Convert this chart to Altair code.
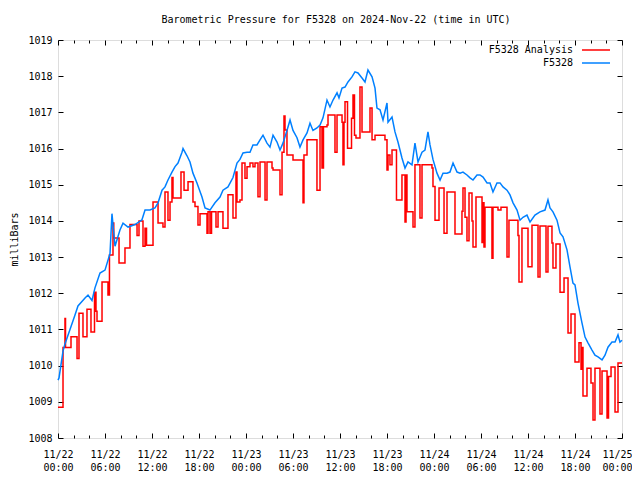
import altair as alt
import pandas as pd

TITLE = "Barometric Pressure for F5328 on 2024-Nov-22 (time in UTC)"
SERIES = ["F5328 Analysis", "F5328"]
COLORS = ["#ff0000", "#0080ff"]

# hours since 2024-11-22 00:00 UTC
BLUE_HOURS = [0.00, 0.13, 0.64, 0.89, 1.53, 2.17, 2.55, 3.45, 3.83, 4.34, 4.72, 5.36, 6.00, 6.64, 6.89,
              7.28, 7.91, 8.30, 8.94, 9.83, 10.72, 11.11, 11.74, 12.38, 12.77, 13.28, 13.66, 14.04,
              14.55, 14.94, 15.32, 15.83, 15.96, 16.47, 16.85, 17.23, 17.74, 18.38, 18.77, 19.40,
              20.04, 20.68, 21.06, 21.70, 22.34, 22.85, 23.23, 23.62, 24.13, 24.51, 24.89, 25.40,
              25.79, 26.17, 26.68, 27.06, 27.45, 27.96, 28.34, 28.72, 29.23, 29.62, 30.00, 30.51,
              30.89, 31.28, 31.79, 32.17, 32.55, 33.06, 33.45, 33.83, 34.34, 34.72, 35.11, 35.62,
              35.87, 36.26, 36.64, 37.02, 37.53, 37.91, 38.30, 38.81, 39.19, 39.57, 40.09, 40.47,
              40.72, 41.11, 41.49, 42.00, 42.13, 42.64, 43.02, 43.40, 43.91, 44.30, 44.68, 45.19,
              45.57, 45.96, 46.47, 46.85, 47.23, 47.49, 47.87, 48.38, 48.77, 49.15, 49.66, 50.04,
              50.43, 50.94, 51.32, 51.70, 52.21, 52.60, 52.98, 53.49, 53.87, 54.26, 54.77, 55.15,
              55.53, 56.04, 56.43, 56.81, 57.32, 57.70, 58.09, 58.60, 58.98, 59.36, 59.87, 60.26,
              60.89, 61.53, 62.17, 62.55, 62.81, 63.19, 63.70, 64.09, 64.47, 64.98, 65.36, 65.74,
              66.00, 66.38, 66.89, 67.28, 67.66, 68.17, 68.55, 68.94, 69.45, 69.83, 70.21, 70.72,
              71.11, 71.49, 71.74, 72.00]
BLUE_VALUES = [1009.60, 1009.66, 1010.40, 1010.60, 1011.00, 1011.40, 1011.65, 1011.87, 1011.95, 1011.80,
               1012.15, 1012.56, 1012.64, 1013.10, 1014.20, 1013.30, 1013.75, 1013.94, 1013.83, 1013.90,
               1014.03, 1014.30, 1014.30, 1014.36, 1014.50, 1014.85, 1014.94, 1015.13, 1015.35, 1015.50,
               1015.60, 1015.90, 1016.00, 1015.80, 1015.63, 1015.32, 1015.05, 1014.66, 1014.36, 1014.30,
               1014.50, 1014.66, 1014.85, 1014.94, 1015.20, 1015.60, 1015.70, 1015.88, 1015.90, 1015.90,
               1016.10, 1016.10, 1016.24, 1016.37, 1016.15, 1016.04, 1016.37, 1016.18, 1015.96, 1016.15,
               1016.50, 1016.79, 1016.50, 1016.30, 1016.04, 1016.24, 1016.43, 1016.70, 1016.50, 1016.57,
               1016.65, 1016.85, 1017.34, 1017.15, 1017.34, 1017.54, 1017.40, 1017.67, 1017.70, 1017.84,
               1017.98, 1018.12, 1018.09, 1017.95, 1017.84, 1018.17, 1017.98, 1017.67, 1017.12, 1017.07,
               1016.79, 1017.26, 1016.73, 1016.87, 1016.46, 1016.18, 1015.74, 1015.46, 1015.63, 1015.55,
               1016.15, 1015.63, 1015.90, 1015.96, 1016.46, 1016.10, 1015.70, 1015.32, 1015.13, 1015.32,
               1015.32, 1015.35, 1015.60, 1015.35, 1015.32, 1015.35, 1015.27, 1015.19, 1015.13, 1015.27,
               1015.27, 1015.21, 1015.05, 1015.05, 1014.80, 1015.05, 1015.05, 1014.94, 1014.85, 1014.72,
               1014.50, 1014.30, 1014.02, 1014.10, 1014.16, 1013.97, 1014.16, 1014.25, 1014.30, 1014.58,
               1014.36, 1014.25, 1014.02, 1013.67, 1013.56, 1013.20, 1012.73, 1012.28, 1012.23, 1011.73,
               1011.18, 1010.79, 1010.63, 1010.43, 1010.29, 1010.24, 1010.16, 1010.29, 1010.51, 1010.65,
               1010.65, 1010.85, 1010.65, 1010.70]

RED_HOURS = [0.00, 0.64, 0.89, 0.96, 1.66, 2.43, 2.68, 3.19, 3.70, 4.21, 4.66, 4.85, 4.98, 5.62, 6.38,
             6.57, 7.02, 7.12, 7.79, 8.55, 9.19, 10.09, 10.34, 10.85, 11.11, 11.30, 12.13, 12.77,
             13.40, 13.66, 14.04, 14.30, 14.55, 14.68, 15.70, 16.09, 16.60, 17.23, 17.49, 17.87,
             18.13, 19.02, 19.15, 19.40, 19.60, 20.17, 20.43, 21.06, 21.70, 22.34, 22.72, 22.85,
             23.23, 23.49, 23.87, 24.13, 24.51, 24.89, 25.15, 25.53, 25.79, 26.43, 26.68, 27.32,
             27.45, 28.34, 28.60, 28.85, 28.98, 29.23, 30.00, 31.28, 31.40, 31.79, 33.06, 33.45,
             33.70, 33.89, 34.34, 34.47, 35.36, 35.62, 36.26, 36.38, 36.51, 36.64, 36.96, 37.47,
             37.66, 37.85, 38.04, 38.55, 38.81, 39.83, 40.09, 40.47, 41.74, 42.00, 42.13, 42.38,
             42.64, 43.21, 43.91, 44.30, 44.43, 44.55, 45.32, 45.57, 46.21, 46.47, 47.74, 47.87,
             48.13, 48.64, 49.28, 49.66, 50.68, 51.57, 51.70, 51.96, 52.21, 52.47, 52.85, 52.98,
             53.36, 54.13, 54.26, 54.38, 54.51, 55.40, 55.53, 56.17, 56.55, 57.32, 57.57, 58.72,
             58.85, 59.23, 60.00, 60.51, 61.28, 61.53, 62.30, 62.55, 63.06, 63.19, 63.57, 64.09,
             64.60, 65.11, 65.49, 66.00, 66.51, 66.77, 66.89, 67.02, 67.53, 68.04, 68.30, 68.55,
             69.19, 69.45, 70.09, 70.28, 70.60, 71.11, 71.49, 72.00]
RED_VALUES = [1008.85, 1010.50, 1011.30, 1010.50, 1010.80, 1010.20, 1011.45, 1010.80, 1011.56, 1010.93,
              1012.03, 1011.50, 1011.23, 1012.31, 1011.95, 1013.06, 1013.94, 1013.53, 1012.84, 1013.25,
              1013.90, 1013.60, 1014.00, 1013.30, 1013.80, 1013.33, 1014.52, 1013.94, 1013.83, 1014.80,
              1014.02, 1014.52, 1015.20, 1014.63, 1015.35, 1014.85, 1015.08, 1014.52, 1014.40, 1013.89,
              1014.20, 1013.66, 1014.25, 1013.66, 1014.25, 1013.83, 1014.25, 1013.80, 1014.72, 1014.08,
              1015.35, 1014.52, 1014.58, 1015.60, 1015.18, 1015.50, 1015.60, 1015.50, 1015.60, 1014.67,
              1015.63, 1014.58, 1015.63, 1015.46, 1015.41, 1014.72, 1015.90, 1016.90, 1016.51, 1015.82,
              1015.68, 1014.50, 1015.82, 1016.24, 1014.85, 1016.60, 1015.46, 1016.60, 1016.65, 1016.93,
              1015.90, 1016.93, 1016.73, 1015.55, 1016.73, 1017.29, 1016.01, 1016.84, 1017.48, 1016.37,
              1016.29, 1017.70, 1016.46, 1017.12, 1016.24, 1016.37, 1016.24, 1015.41, 1015.82, 1015.55,
              1015.96, 1014.58, 1015.27, 1013.97, 1015.27, 1014.25, 1013.83, 1015.55, 1014.08, 1015.55,
              1015.46, 1014.95, 1014.02, 1014.91, 1013.66, 1014.80, 1013.64, 1014.27, 1014.91, 1014.10,
              1013.45, 1014.77, 1014.00, 1013.28, 1014.66, 1013.40, 1014.50, 1013.28, 1014.38, 1012.97,
              1014.38, 1014.30, 1014.38, 1013.00, 1014.02, 1013.60, 1012.31, 1013.80, 1012.73, 1013.88,
              1012.45, 1013.86, 1012.59, 1013.85, 1013.39, 1012.70, 1013.36, 1012.03, 1012.42, 1010.90,
              1011.43, 1010.10, 1010.63, 1009.90, 1010.50, 1009.16, 1009.93, 1009.52, 1008.50, 1009.93,
              1008.66, 1009.85, 1008.55, 1009.70, 1009.96, 1008.72, 1010.07, 1010.07]

X_MAJOR = [0, 6, 12, 18, 24, 30, 36, 42, 48, 54, 60, 66, 72]
X_MINOR = [2, 4, 8, 10, 14, 16, 20, 22, 26, 28, 32, 34, 38, 40, 44, 46, 50, 52, 56, 58, 62, 64, 68, 70]
Y_TICKS = [1008, 1009, 1010, 1011, 1012, 1013, 1014, 1015, 1016, 1017, 1018, 1019]

FONT = "DejaVu Sans Mono"
W, H = 564, 398
MAJ, MIN = 5, 3

red_df = pd.DataFrame({"hour": RED_HOURS, "mb": RED_VALUES})
blue_df = pd.DataFrame({"hour": BLUE_HOURS, "mb": BLUE_VALUES})

xs = alt.Scale(domain=[0, 72], nice=False, zero=False)
ys = alt.Scale(domain=[1008, 1019], nice=False, zero=False)

label_expr = ("['11/' + (22 + floor(datum.value / 24)), "
              "(datum.value % 24 < 10 ? '0' : '') + (datum.value % 24) + ':00']")

common = dict(domain=False, grid=False, tickColor="black", tickWidth=1,
              labelFont=FONT, labelFontSize=10, labelColor="black", title=None)

ax_bottom = alt.Axis(orient="bottom", values=X_MAJOR, offset=-MAJ, tickSize=MAJ, labelExpr=label_expr,
                     labelPadding=11, labelLineHeight=13, labelFlush=False, labelOverlap=False,
                     labelOffset={"condition": {"test": "datum.value == 72", "value": -5}, "value": 0},
                     **common)
ax_top = alt.Axis(orient="top", values=X_MAJOR, offset=-MAJ, tickSize=MAJ, labels=False, **common)
ax_bottom_minor = alt.Axis(orient="bottom", values=X_MINOR, offset=-MIN, tickSize=MIN, labels=False, **common)
ax_top_minor = alt.Axis(orient="top", values=X_MINOR, offset=-MIN, tickSize=MIN, labels=False, **common)
ax_left = alt.Axis(orient="left", values=Y_TICKS, offset=-MAJ, tickSize=MAJ, labelPadding=6,
                   format="d", labelOverlap=False, labelFlush=False,
                   domain=False, grid=False, tickColor="black", tickWidth=1,
                   labelFont=FONT, labelFontSize=10, labelColor="black",
                   title="milliBars", titleFont=FONT, titleFontSize=10, titleFontWeight="normal",
                   titleColor="black", titlePadding=8)
ax_right = alt.Axis(orient="right", values=Y_TICKS, offset=-MAJ, tickSize=MAJ, labels=False, **common)

red = alt.Chart(red_df).mark_line(color=COLORS[0], strokeWidth=1.5, interpolate="step-after").encode(
    x=alt.X("hour:Q", scale=xs, axis=ax_bottom),
    y=alt.Y("mb:Q", scale=ys, axis=ax_left),
)
blue = alt.Chart(blue_df).mark_line(color=COLORS[1], strokeWidth=1.5).encode(
    x=alt.X("hour:Q", scale=xs, axis=ax_top),
    y=alt.Y("mb:Q", scale=ys, axis=ax_right),
)
minor_b = alt.Chart(blue_df).mark_point(opacity=0).encode(
    x=alt.X("hour:Q", scale=xs, axis=ax_bottom_minor),
    y=alt.Y("mb:Q", scale=ys, axis=None),
)
minor_t = alt.Chart(blue_df).mark_point(opacity=0).encode(
    x=alt.X("hour:Q", scale=xs, axis=ax_top_minor),
    y=alt.Y("mb:Q", scale=ys, axis=None),
)

legend_layers = []
for i, (name, col) in enumerate(zip(SERIES, COLORS)):
    ldf = pd.DataFrame({"name": [name]})
    ty = 10 + 13 * i
    legend_layers.append(
        alt.Chart(ldf).mark_text(align="right", baseline="middle", font=FONT, fontSize=10, color="black")
        .encode(text="name:N", x=alt.value(515), y=alt.value(ty))
    )
    legend_layers.append(
        alt.Chart(ldf).mark_rule(color=col, strokeWidth=1.5)
        .encode(x=alt.value(524), x2=alt.value(552), y=alt.value(ty))
    )

chart = alt.layer(red, blue, minor_b, minor_t, *legend_layers).resolve_axis(
    x="independent", y="independent"
).properties(
    width=W, height=H,
    title=alt.TitleParams(TITLE, font=FONT, fontSize=10, fontWeight="normal", color="black",
                          anchor="middle", offset=10, dx=-4),
    autosize=alt.AutoSizeParams(type="none"),
    padding={"left": 50, "top": 32, "right": 10, "bottom": 40},
).configure_view(stroke="black", strokeWidth=1).configure(background="white")

chart.save("out.html", embed_options={"renderer": "svg", "actions": False})
